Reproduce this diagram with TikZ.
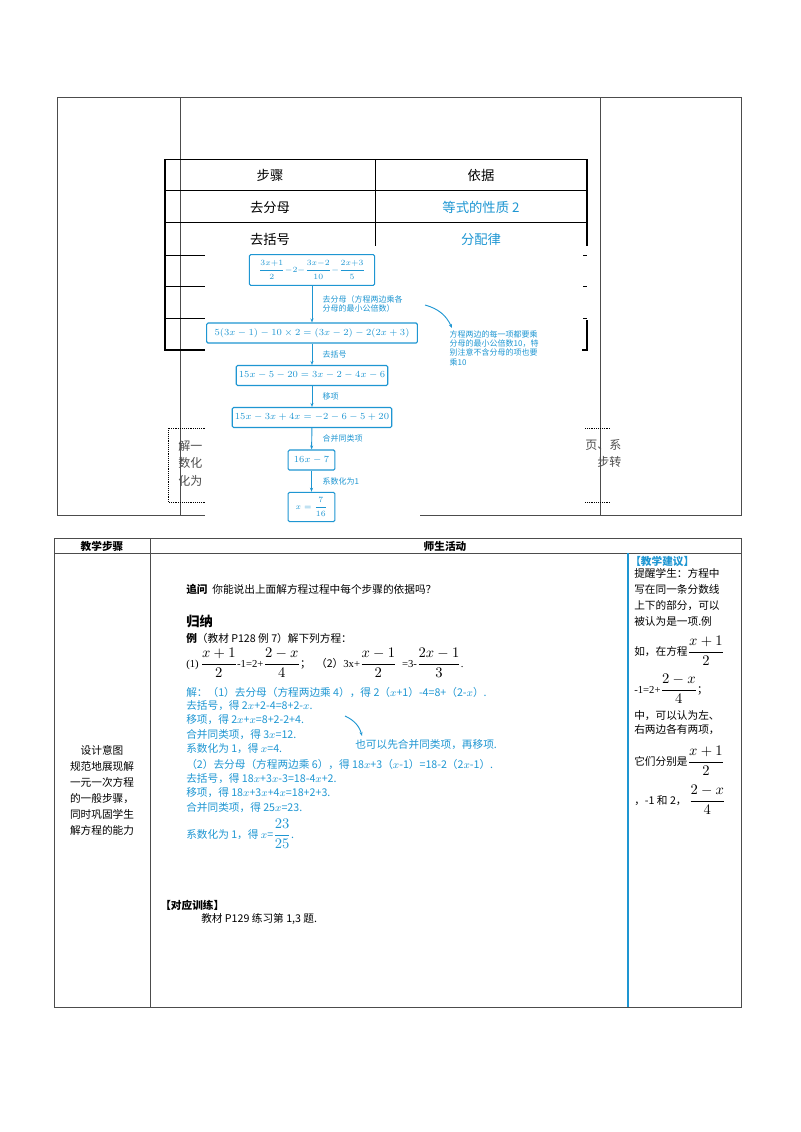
\documentclass[tikz,border=0pt]{standalone}
\usepackage{amsmath}
\usepackage{fontspec}
\setmainfont{Liberation Serif}
\newfontfamily\cjk{Noto Sans CJK SC}
\usetikzlibrary{arrows.meta}
\definecolor{bl}{RGB}{30,150,210}
\tikzset{
 fbox/.style={draw=bl,line width=0.8pt,rounded corners=1pt,text=bl,font=\fontsize{7}{8}\selectfont,inner sep=2pt},
 flab/.style={text=bl,font=\cjk\fontsize{6}{7}\selectfont,anchor=west,align=left},
 farr/.style={bl,line width=0.7pt,-{Stealth[length=3pt]}},
 txt/.style={anchor=west,font=\cjk\fontsize{8}{10}\selectfont,inner sep=0pt},
 btxt/.style={txt,text=bl},
 frame/.style={line width=0.6pt,black!70}
}
\begin{document}
\begin{tikzpicture}[x=0.75pt,y=-0.75pt]
\useasboundingbox (0,0) rectangle (800,1132);
% upper frame
\draw[frame] (57,97) rectangle (741,515);
\draw[frame] (180,97) -- (180,515) (600,97) -- (600,515);
% inner table
\draw[line width=0.5pt] (165,159) -- (587,159) (165,190) -- (587,190) (165,222) -- (587,222) (375,159) -- (375,246);
\draw[line width=1.4pt] (165,159) -- (165,350) -- (205,350);
\draw[line width=1.4pt] (587,159) -- (587,246);
\draw[line width=1.4pt] (582,350) -- (587,350) -- (587,320);
\foreach \y in {255,286,318}{\draw[line width=0.5pt] (165,\y) -- (205,\y); \draw[line width=0.5pt] (583,\y) -- (587,\y);}
\node[font=\cjk\fontsize{10}{12}\selectfont] (h1) at (270,175) {步骤};
\node[font=\cjk\fontsize{10}{12}\selectfont] (h2) at (481,175) {依据};
\node[font=\cjk\fontsize{10}{12}\selectfont] (r1) at (270,207) {去分母};
\node[font=\cjk\fontsize{10}{12}\selectfont,text=bl] (r1b) at (481,207) {等式的性质 2};
\node[font=\cjk\fontsize{10}{12}\selectfont] (r2) at (270,239) {去括号};
\node[font=\cjk\fontsize{10}{12}\selectfont,text=bl] (r2b) at (481,239) {分配律};
% dotted side boxes
\draw[densely dotted] (205,428) -- (168,428) -- (168,502) -- (205,502);
\draw[densely dotted] (585,428) -- (610,428) (585,502) -- (610,502);
\node[txt,font=\cjk\fontsize{9}{11}\selectfont,text=black!70] (sl) at (178,465) {\begin{tabular}{@{}l@{}}解一\\[2pt]数化\\[2pt]化为\end{tabular}};
\node[txt,font=\cjk\fontsize{9}{11}\selectfont,text=black!70] (sr) at (585,455) {\begin{tabular}{@{}r@{}}页、系\\[2pt]步转\end{tabular}};
% flowchart
\fill[white] (205,250) rectangle (420,525);
\node[fbox,minimum width=94pt,minimum height=23pt,inner sep=1pt,font=\fontsize{6}{7}\selectfont] (b1) at (312,270) {$\dfrac{3x{+}1}{2}{-}2{-}\dfrac{3x{-}2}{10}{-}\dfrac{2x{+}3}{5}$};
\node[fbox,minimum width=158pt,minimum height=15pt] (b2) at (312,333) {$5(3x-1)-10\times2=(3x-2)-2(2x+3)$};
\node[fbox,minimum width=97pt,minimum height=15pt] (b3) at (312,375.5) {$15x-5-20=3x-2-4x-6$};
\node[fbox,minimum width=101pt,minimum height=15pt] (b4) at (312,417.5) {$15x-3x+4x=-2-6-5+20$};
\node[fbox,minimum width=35pt,minimum height=15pt] (b5) at (311.5,460) {$16x-7$};
\node[fbox,minimum width=35pt,minimum height=22pt,font=\fontsize{6}{7}\selectfont] (b6) at (311.5,507) {$x=\dfrac{7}{16}$};
\draw[farr] (b1) -- (b2);
\draw[farr] (b2) -- (b3);
\draw[farr] (b3) -- (b4);
\draw[farr] (b4) -- (b5);
\draw[farr] (b5) -- (b6);
\node[flab] (l1) at (318,304) {去分母（方程两边乘各\\分母的最小公倍数）};
\node[flab] (l2) at (318,354) {去括号};
\node[flab] (l3) at (318,396) {移项};
\node[flab] (l4) at (318,438) {合并同类项};
\node[flab] (l5) at (318,481) {系数化为1};
\node[flab] (ann) at (445,348) {方程两边的每一项都要乘\\分母的最小公倍数10，特\\别注意不含分母的项也要\\乘10};
\coordinate (c1) at (425,305);
\draw[farr] (c1) to[bend left=25] (452,328);
% lower table
\draw[frame] (54,538) rectangle (741,1007);
\draw[frame] (54,553) -- (741,553);
\draw[frame] (150,538) -- (150,1007) (628,553) -- (628,1007);
\draw[line width=1.2pt,bl] (628,553) -- (628,1007);
\node[font=\cjk\bfseries\fontsize{8}{10}\selectfont] (t1) at (102,546) {教学步骤};
\node[font=\cjk\bfseries\fontsize{8}{10}\selectfont] (t2) at (445,546) {师生活动};
\node[font=\cjk\fontsize{8}{12}\selectfont,align=center] (t3) at (102,790) {设计意图\\规范地展现解\\一元一次方程\\的一般步骤，\\同时巩固学生\\解方程的能力};
% middle content
\node[txt] (q) at (186,589) {\textbf{追问}\ \ 你能说出上面解方程过程中每个步骤的依据吗？};
\node[txt,font=\cjk\bfseries\fontsize{10}{12}\selectfont] (gn) at (186,621) {归纳};
\node[txt] (ex) at (186,638) {\textbf{例}（教材 P128 例 7）解下列方程：};
\node[txt,font=\fontsize{8}{10}\selectfont] (eq) at (186,663) {(1)\,{\fontsize{11}{12}\selectfont$\dfrac{x+1}{2}$}-1=2+{\fontsize{11}{12}\selectfont$\dfrac{2-x}{4}$}{\cjk；}\ \ {\cjk（2）}3x+{\fontsize{11}{12}\selectfont$\dfrac{x-1}{2}$}\ \ =3-{\fontsize{11}{12}\selectfont$\dfrac{2x-1}{3}$}.};
\node[btxt] (s1) at (186,692) {解：（1）去分母（方程两边乘 4），得 2（$x$+1）-4=8+（2-$x$）.};
\node[btxt] (s2) at (186,706) {去括号，得 2$x$+2-4=8+2-$x$.};
\node[btxt] (s3) at (186,720) {移项，得 2$x$+$x$=8+2-2+4.};
\node[btxt] (s4) at (186,735) {合并同类项，得 3$x$=12.};
\node[btxt] (s5) at (186,749) {系数化为 1，得 $x$=4.};
\node[btxt] (s6) at (186,764) {（2）去分母（方程两边乘 6），得 18$x$+3（$x$-1）=18-2（2$x$-1）.};
\node[btxt] (s7) at (186,779) {去括号，得 18$x$+3$x$-3=18-4$x$+2.};
\node[btxt] (s8) at (186,793) {移项，得 18$x$+3$x$+4$x$=18+2+3.};
\node[btxt] (s9) at (186,808) {合并同类项，得 25$x$=23.};
\node[btxt] (s10) at (186,834) {系数化为 1，得 $x$={\fontsize{11}{12}\selectfont$\dfrac{23}{25}$}.};
\node[btxt,font=\cjk\fontsize{8}{10}\selectfont\itshape] (alt) at (355,745) {也可以先合并同类项，再移项.};
\coordinate (c2) at (345,716);
\draw[farr] (c2) to[bend left=25] (362,736);
\node[txt,font=\cjk\bfseries\fontsize{8}{10}\selectfont] (dy) at (160,905) {【对应训练】};
\node[txt] (dy2) at (201,919) {教材 P129 练习第 1,3 题.};
% right column
\node[txt,font=\cjk\bfseries\fontsize{8}{10}\selectfont,text=bl] (jy) at (630,561) {【教学建议】};
\node[anchor=north west,font=\cjk\fontsize{8}{12}\selectfont,inner sep=0pt,align=left] (rc1) at (634,568) {提醒学生：方程中\\写在同一条分数线\\上下的部分，可以\\被认为是一项.例};
\node[txt,font=\cjk\fontsize{8}{10}\selectfont] (rc2) at (634,651) {如，在方程{\fontsize{11}{12}\selectfont$\dfrac{x+1}{2}$}};
\node[txt,font=\fontsize{8}{10}\selectfont] (rc3) at (634,689) {-1=2+{\fontsize{11}{12}\selectfont$\dfrac{2-x}{4}$}\cjk；};
\node[anchor=north west,font=\cjk\fontsize{8}{11}\selectfont,inner sep=0pt,align=left] (rc4) at (634,710) {中，可以认为左、\\右两边各有两项，};
\node[txt,font=\cjk\fontsize{8}{10}\selectfont] (rc5) at (634,761) {它们分别是{\fontsize{11}{12}\selectfont$\dfrac{x+1}{2}$}};
\node[txt,font=\cjk\fontsize{8}{10}\selectfont] (rc6) at (634,800) {，-1 和 2，\ {\fontsize{11}{12}\selectfont$\dfrac{2-x}{4}$}};
\end{tikzpicture}
\end{document}
